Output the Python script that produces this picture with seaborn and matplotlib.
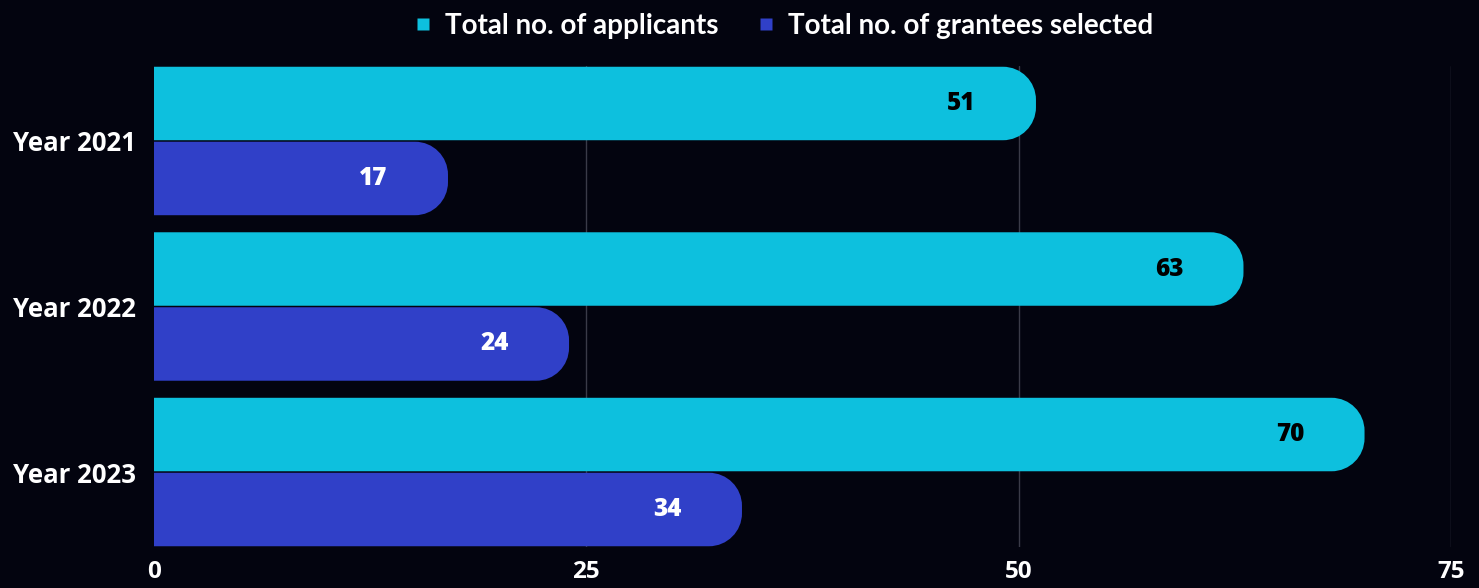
import matplotlib
matplotlib.use("Agg")
import matplotlib.pyplot as plt
from matplotlib.patches import PathPatch
from matplotlib.path import Path
from matplotlib.lines import Line2D
import seaborn as sns
import pandas as pd

years = ["Year 2021", "Year 2022", "Year 2023"]
series = ["Total no. of applicants", "Total no. of grantees selected"]
applicants = [51, 63, 70]
grantees = [17, 24, 34]
xticks = [0, 25, 50, 75]

BG = "#03040f"
COLORS = ["#0dc0de", "#3040c8"]
LABEL_COLORS = ["#000000", "#ffffff"]

df = pd.DataFrame({
    "year": years * 2,
    "value": applicants + grantees,
    "series": [series[0]] * 3 + [series[1]] * 3,
})

sns.set_theme(style="dark")
plt.rcParams["font.family"] = ["Open Sans", "DejaVu Sans"]

fig = plt.figure(figsize=(14.79, 5.88), dpi=100, facecolor=BG)
ax = fig.add_axes([154 / 1479, 1 - 547 / 588, (1451 - 154) / 1479, (547 - 66) / 588])
ax.set_facecolor(BG)

sns.barplot(data=df, y="year", x="value", hue="series", hue_order=series,
            order=years, orient="h", palette=COLORS, width=0.906, gap=0.02,
            saturation=1, ax=ax, legend=False, zorder=3)

ax.set_xlim(0, 75)
ax.set_ylim(2.453, -0.453)
ax.set_xticks(xticks)
ax.set_xticklabels([str(t) for t in xticks], color="white", fontsize=17.5, fontweight="bold")
ax.tick_params(axis="x", length=0, pad=9)
ax.tick_params(axis="y", length=0, pad=13)
for lbl in ax.get_yticklabels():
    lbl.set_color("white")
    lbl.set_fontsize(18.5)
    lbl.set_fontweight("bold")
ax.set_xlabel("")
ax.set_ylabel("")
for s in ax.spines.values():
    s.set_visible(False)
ax.grid(False)
for t in xticks[1:]:
    ax.axvline(t, color="#3a3b48", lw=1, zorder=1)

# rounded right ends
fig.canvas.draw()
p0 = ax.transData.transform((0, 0))
p1 = ax.transData.transform((1, 1))
px_x = abs(p1[0] - p0[0])
px_y = abs(p1[1] - p0[1])
r_px = 33
K = 0.5523


def rounded_right(x, y, w, h, rx, ry):
    x1 = x + w
    verts = [
        (x, y),
        (x1 - rx, y),
        (x1 - rx + K * rx, y), (x1, y + ry - K * ry), (x1, y + ry),
        (x1, y + h - ry),
        (x1, y + h - ry + K * ry), (x1 - rx + K * rx, y + h), (x1 - rx, y + h),
        (x, y + h),
        (x, y),
    ]
    codes = [Path.MOVETO, Path.LINETO,
             Path.CURVE4, Path.CURVE4, Path.CURVE4,
             Path.LINETO,
             Path.CURVE4, Path.CURVE4, Path.CURVE4,
             Path.LINETO, Path.CLOSEPOLY]
    return Path(verts, codes)


for p in list(ax.patches):
    x, y = p.get_x(), p.get_y()
    w, h = p.get_width(), p.get_height()
    fc = p.get_facecolor()
    p.remove()
    ylo, hh = (y, h) if h > 0 else (y + h, -h)
    rx = min(r_px / px_x, w / 2)
    ry = min(r_px / px_y, hh / 2)
    ax.add_patch(PathPatch(rounded_right(x, ylo, w, hh, rx, ry), fc=fc, ec="none", zorder=3))

# value labels
bar_h = 0.906 / 2
for si, vals in enumerate([applicants, grantees]):
    for i, v in enumerate(vals):
        yc = i - 0.906 / 4 + si * bar_h
        ax.text(v - 4.3, yc, str(v), ha="center", va="center",
                color=LABEL_COLORS[si], fontsize=17.5, fontweight="heavy", zorder=5)

handles = [Line2D([0], [0], marker="s", linestyle="none", markersize=9,
                  markerfacecolor=c, markeredgecolor="none") for c in COLORS]
leg = fig.legend(handles, series, loc="center", bbox_to_anchor=(0.529, 1 - 26 / 588),
                 ncol=2, frameon=False, handletextpad=0.4,
                 columnspacing=1.3, handlelength=0.8, fontsize=20)
for t in leg.get_texts():
    t.set_color("white")
    t.set_family(["Lato", "DejaVu Sans"])
    t.set_fontweight("bold")

fig.savefig("out.png", dpi=100, facecolor=BG)
